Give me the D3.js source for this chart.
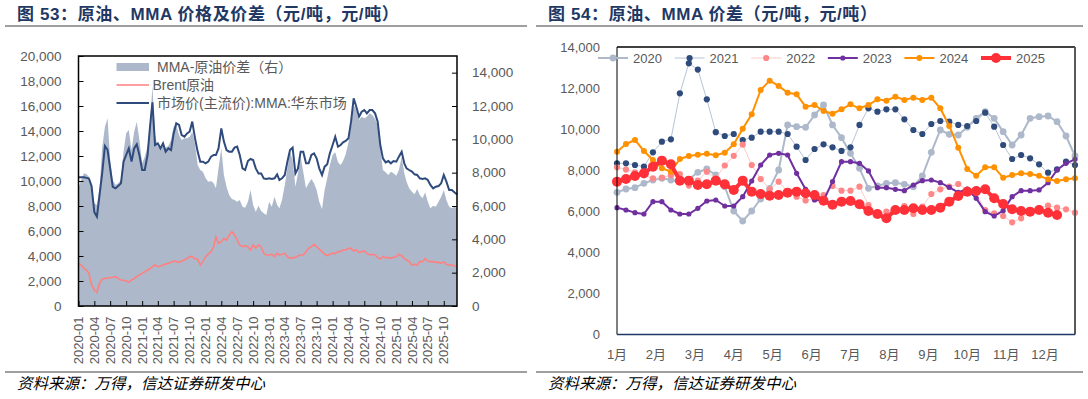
<!DOCTYPE html>
<html>
<head>
<meta charset="utf-8">
<script src="https://cdn.jsdelivr.net/npm/d3@7"></script>
<style>
  body { margin: 0; background: #fff; }
</style>
</head>
<body>
<svg id="svg"></svg>
<script>
// ---------- left chart data: semi-monthly samples, 2020-01 .. 2025-12 ----------
var mmaPrice = [
  10300, 10300, 10300, 10250, 10200, 9600, 7500, 7150, 8880, 10600,
  12800, 12500, 11000, 9530, 9410, 9600, 9810, 11550, 12080, 12600,
  11550, 12600, 12930, 12080, 10880, 10880, 12080, 14480, 16300, 12880,
  13010, 12610, 13010, 12350, 12610, 12480, 13810, 14610, 14480, 13680,
  13550, 13810, 13950, 14750, 13410, 12350, 11550, 11550, 11410, 11550,
  11950, 12080, 12080, 12610, 14210, 13150, 12480, 12350, 12350, 12670,
  12750, 12080, 11010, 10880, 11600, 11760, 11680, 11010, 10610, 10610,
  10210, 10160, 10210, 10160, 10213, 10533, 10080, 10213, 10480, 11547,
  12480, 12667, 10613, 11013, 12347, 12347, 11413, 11413, 12080, 12213,
  11813, 11013, 10480, 11147, 11333, 12213, 12880, 13547, 12747, 12880,
  13093, 13200, 13413, 14747, 16613, 15947, 15147, 15547, 15680, 15413,
  15680, 15680, 15413, 14747, 12880, 11813, 11493, 11600, 11413, 11600,
  11547, 11947, 12347, 11413, 11013, 10880, 10747, 10533, 10480, 10213,
  10160, 10213, 10080, 9680, 9413, 9547, 9600, 9813, 10480, 9947,
  9280, 9280, 9093, 8933
];
var brentPrice = [
  3413, 3280, 3013, 2880, 2613, 1680, 1280, 1100, 1813, 2160,
  2213, 2240, 2267, 2300, 2347, 2213, 2080, 2050, 2027, 1893,
  2080, 2200, 2347, 2480, 2613, 2750, 2880, 3000, 3147, 3280,
  3147, 3200, 3280, 3350, 3413, 3500, 3600, 3550, 3493, 3600,
  3680, 3800, 3947, 3947, 3760, 3760, 3280, 3547, 3947, 4150,
  4347, 4747, 5547, 5013, 5147, 5413, 5280, 5680, 5947, 5680,
  5280, 4880, 4747, 4827, 4747, 4480, 4880, 4613, 4880, 4747,
  4213, 4080, 4080, 4133, 3947, 4213, 4080, 4133, 4213, 3947,
  3813, 3867, 3867, 4027, 4080, 4080, 4347, 4613, 4747, 4933,
  4747, 4560, 4347, 4133, 4027, 4133, 4213, 4213, 4347, 4347,
  4480, 4480, 4613, 4613, 4400, 4480, 4293, 4347, 4400, 4213,
  4080, 4133, 4080, 3867, 3760, 3947, 3867, 3867, 3813, 3893,
  3947, 4133, 4000, 3813, 3680, 3547, 3280, 3333, 3280, 3547,
  3547, 3813, 3600, 3547, 3547, 3493, 3493, 3413, 3547, 3333,
  3280, 3280, 3227, 3147
];
var mmaSpread = [
  7060, 7560, 7960, 7900, 7760, 7160, 6160, 6060, 7060, 9460,
  10760, 11260, 8760, 7560, 7260, 7360, 7560, 9260, 10360, 10560,
  9360, 10460, 11060, 9960, 8560, 8960, 9560, 11060, 13200, 10260,
  9560, 9560, 9660, 9500, 9620, 9960, 10760, 10860, 10260, 9960,
  10060, 10060, 10160, 10460, 9700, 8460, 8160, 8060, 7660, 7460,
  7500, 7360, 7060, 8260, 9460, 7860, 7160, 6660, 6420, 6360,
  6260, 6360, 5960, 5900, 6260, 6960, 6060, 5660, 6020, 5700,
  5560, 5460, 6260, 5960, 6560, 6060, 5860, 6360, 7260, 8260,
  9260, 8760, 7160, 7960, 8960, 8060, 7060, 7360, 7620, 7360,
  6960, 6260, 5820, 6960, 7660, 8460, 9060, 9220, 8620, 8460,
  8700, 9100, 9820, 10760, 12060, 11760, 11160, 11360, 11260, 11360,
  11560, 11460, 11220, 10860, 9460, 8160, 8020, 7860, 8060, 7960,
  7820, 8160, 8960, 7960, 7460, 7060, 6860, 6700, 7020, 6660,
  6460, 6820, 6260, 5860, 6020, 5960, 6260, 6560, 6960, 6360,
  5960, 5860, 5960, 5860
];
var quarterLabels = [
  "2020-01","2020-04","2020-07","2020-10","2021-01","2021-04","2021-07","2021-10",
  "2022-01","2022-04","2022-07","2022-10","2023-01","2023-04","2023-07","2023-10",
  "2024-01","2024-04","2024-07","2024-10","2025-01","2025-04","2025-07","2025-10"
];
var leftSeriesNames = ["MMA-原油价差（右）", "Brent原油", "市场价(主流价):MMA:华东市场"];

// ---------- right chart data: weekly spread by year ----------
var monthLabels = ["1月","2月","3月","4月","5月","6月","7月","8月","9月","10月","11月","12月"];
var yearNames = ["2020","2021","2022","2023","2024","2025"];
var spread2020 = [6923,7086,7151,7362,7524,7606,7524,7443,7557,7899,8060,7768,7200,6014,5527,6014,6599,7118,8011,10203,
  10121,10089,10690,11177,10203,9585,8824,8093,7118,7232,7362,7394,7313,7200,7719,8873,9959,9748,9715,10089,
  10527,10852,10527,9877,9229,9715,10527,10608,10641,10365,9667,8693];
var spread2021 = [8335,8335,8255,8173,8873,9391,9504,11745,13206,12900,11450,9850,9667,9764,9472,9585,9877,9877,9877,9764,
  9147,8498,9034,9261,9115,8937,9115,10203,11015,10852,10966,10966,10479,9959,9764,10251,10397,10365,10203,10154,
  10397,10803,10121,9229,8547,8742,8580,8288,7880,8045,8417,8255];
var spread2022 = [8141,8030,7900,7750,7600,7640,7750,7816,7250,7500,7930,7600,8230,8700,9250,8250,7570,7070,7440,6960,
  6710,6530,6600,6790,7230,7005,7005,7200,6306,5900,5980,6100,6250,5870,6226,6842,7070,7200,7329,7050,
  6880,6063,5900,5771,5462,5657,5982,6150,6273,6177,6095,5933];
var spread2023 = [6177,6063,5933,5869,6469,6469,6063,5869,5869,6144,6501,6550,6258,6258,6713,7475,8255,8742,8824,8742,
  7850,7070,6550,6520,7450,8417,8417,8336,7963,7151,7151,7070,7005,7281,7492,7524,7394,7167,6923,7086,
  6631,5982,5771,6030,6713,7005,7005,7038,7394,8011,8336,8531];
var spread2024 = [8903,9277,9472,8936,8498,8093,7930,8547,8693,8758,8807,8726,8855,9261,10022,10722,11906,12362,12102,11777,
  11696,11095,11177,10884,10750,10966,11210,11015,11177,11453,11388,11583,11420,11534,11420,11534,11015,10154,9099,8060,
  7734,8142,8142,7636,7767,7848,7815,7734,7555,7475,7555,7604];
var spread2025 = [7443,7573,7719,7851,8173,8466,8288,7492,7492,7281,7313,7492,7313,7037,7492,6956,6842,6761,6793,6907,
  6956,6875,6793,6510,6320,6469,6501,6339,6014,5869,5657,6063,6063,6144,6063,6063,6177,6469,6745,6956,
  6988,7070,6631,6355,6095,6014,5982,6063,5933,5820];
var yearSeries = [spread2020, spread2021, spread2022, spread2023, spread2024, spread2025];

// ---------- styles ----------
var font = '"Liberation Sans","Noto Sans CJK SC",sans-serif';
var grey = "#595959";
var yearStyle = [
  {line: "#adb9ca", lw: 2,   dot: "#adb9ca", r: 3.4},
  {line: "#b7c4d8", lw: 1,   dot: "#2f4b7c", r: 3.1},
  {line: "#ffcaca", lw: 1,   dot: "#ff8787", r: 3.1},
  {line: "#7030a0", lw: 2,   dot: "#7030a0", r: 2.6},
  {line: "#ff9100", lw: 2,   dot: "#ff9100", r: 3},
  {line: "#ff3038", lw: 4,   dot: "#ff3038", r: 5}
];

var svg = d3.select("#svg").attr("width", 1088).attr("height", 399)
    .style("font-family", font);

// ---------- titles and footers ----------
function frame(x0, x1, title) {
  svg.append("text").attr("x", x0 + 12).attr("y", 20)
    .attr("font-size", 17).attr("font-weight", "bold").attr("fill", "#1f3864")
    .attr("letter-spacing", 0.6)
    .text(title);
  svg.append("line").attr("x1", x0).attr("x2", x1).attr("y1", 26).attr("y2", 26)
    .attr("stroke", "#7f7f7f").attr("stroke-width", 1.5);
  svg.append("line").attr("x1", x0).attr("x2", x1).attr("y1", 372).attr("y2", 372)
    .attr("stroke", "#7f7f7f").attr("stroke-width", 1.5);
  svg.append("text").attr("x", x0 + 12).attr("y", 389)
    .attr("font-size", 15.5).attr("font-style", "italic").attr("fill", "#000")
    .style("font-family", '"Noto Sans CJK SC",sans-serif')
    .text("资料来源：万得，信达证券研发中心");
}
frame(5, 527, "图 53：原油、MMA 价格及价差（元/吨，元/吨）");
frame(536, 1083, "图 54：原油、MMA 价差（元/吨，元/吨）");

// ---------- left chart ----------
var sampleDates = d3.range(mmaPrice.length).map(function(i) {
  return new Date(2020 + Math.floor(i / 24), Math.floor(i / 2) % 12, i % 2 ? 16 : 1);
});
var parseMonth = d3.timeParse("%Y-%m");
var xL = d3.scaleTime().domain([sampleDates[0], sampleDates[sampleDates.length - 1]]).range([78.5, 457]);
var yL = d3.scaleLinear().domain([0, 20000]).range([306, 56]);
var yR = d3.scaleLinear().domain([0, 15000]).range([306, 56]);

var left = svg.append("g");

left.append("path").datum(mmaSpread)
  .attr("d", d3.area().x(function(d, i) { return xL(sampleDates[i]); })
    .y0(yR(0)).y1(function(d) { return yR(d); }))
  .attr("fill", "#adb9ca");

var lineL = d3.line().x(function(d, i) { return xL(sampleDates[i]); }).y(function(d) { return yL(d); });
left.append("path").datum(brentPrice).attr("d", lineL)
  .attr("fill", "none").attr("stroke", "#ff8080").attr("stroke-width", 1.6);
left.append("path").datum(mmaPrice).attr("d", lineL)
  .attr("fill", "none").attr("stroke", "#2f4a7c").attr("stroke-width", 2);

function styleAxis(g, size) {
  g.select(".domain").remove();
  g.attr("font-family", font).attr("font-size", size);
  g.selectAll(".tick line").attr("stroke", "#000");
  g.selectAll(".tick text").attr("fill", grey);
}

left.append("g").attr("transform", "translate(78.5,0)")
  .call(d3.axisLeft(yL).tickValues(d3.range(0, 20001, 2000)).tickSize(-5).tickPadding(17)
    .tickFormat(d3.format(",")))
  .call(styleAxis, 13.5);
left.append("g").attr("transform", "translate(457,0)")
  .call(d3.axisRight(yR).tickValues(d3.range(0, 14001, 2000)).tickSize(-5).tickPadding(15)
    .tickFormat(d3.format(",")))
  .call(styleAxis, 13.5);
left.append("g").attr("transform", "translate(0,306)")
  .call(d3.axisBottom(xL).tickValues(quarterLabels.map(parseMonth)).tickSize(-5).tickFormat(""))
  .call(styleAxis, 13);

left.selectAll("text.xq").data(quarterLabels).join("text")
  .attr("class", "xq")
  .attr("transform", function(d) { return "translate(" + xL(parseMonth(d)) + ",316.5) rotate(-90)"; })
  .attr("text-anchor", "end").attr("dy", "0.35em")
  .attr("font-size", 13).attr("fill", grey)
  .text(function(d) { return d; });

left.append("rect").attr("x", 78.5).attr("y", 56).attr("width", 457 - 78.5).attr("height", 250)
  .attr("fill", "none").attr("stroke", "#000").attr("stroke-width", 1.5);

// legend
var legL = left.append("g").attr("font-size", 14).attr("fill", grey);
legL.append("rect").attr("x", 116.5).attr("y", 63).attr("width", 32.5).attr("height", 8).attr("fill", "#adb9ca");
legL.append("text").attr("x", 157).attr("y", 67).attr("dy", "0.35em").text(leftSeriesNames[0]);
legL.append("line").attr("x1", 116.5).attr("x2", 149).attr("y1", 85).attr("y2", 85)
  .attr("stroke", "#ff8080").attr("stroke-width", 1.6);
legL.append("text").attr("x", 152.5).attr("y", 85).attr("dy", "0.35em").text(leftSeriesNames[1]);
legL.append("line").attr("x1", 116.5).attr("x2", 149).attr("y1", 103).attr("y2", 103)
  .attr("stroke", "#2f4a7c").attr("stroke-width", 2);
legL.append("text").attr("x", 157).attr("y", 103).attr("dy", "0.35em").text(leftSeriesNames[2]);

// ---------- right chart ----------
var right = svg.append("g");
var xW = d3.scaleLinear().domain([0, 51]).range([617, 1075]);
var yW = d3.scaleLinear().domain([0, 14000]).range([334.5, 47]);

right.append("g").attr("transform", "translate(617,0)")
  .call(d3.axisLeft(yW).tickValues(d3.range(0, 14001, 2000)).tickSize(0).tickPadding(17)
    .tickFormat(d3.format(",")))
  .call(styleAxis, 13);

right.selectAll("text.mon").data(monthLabels).join("text")
  .attr("class", "mon")
  .attr("x", function(d, i) { return xW(i * 52 / 12); })
  .attr("y", 354).attr("dy", "0.35em").attr("text-anchor", "middle")
  .attr("font-size", 13).attr("fill", grey)
  .text(function(d) { return d; });

var lineW = d3.line().x(function(d, i) { return xW(i); }).y(function(d) { return yW(d); });
yearSeries.forEach(function(vals, k) {
  var st = yearStyle[k];
  var g = right.append("g");
  g.append("path").datum(vals).attr("d", lineW)
    .attr("fill", "none").attr("stroke", st.line).attr("stroke-width", st.lw)
    .attr("stroke-linejoin", "round");
  g.selectAll("circle").data(vals).join("circle")
    .attr("cx", function(d, i) { return xW(i); })
    .attr("cy", function(d) { return yW(d); })
    .attr("r", st.r).attr("fill", st.dot);
});

// box
right.append("line").attr("x1", 617).attr("x2", 617).attr("y1", 47).attr("y2", 334.5).attr("stroke", "#000").attr("stroke-width", 1);
right.append("line").attr("x1", 617).attr("x2", 1075).attr("y1", 47).attr("y2", 47).attr("stroke", "#000").attr("stroke-width", 1.3);
right.append("line").attr("x1", 1075).attr("x2", 1075).attr("y1", 47).attr("y2", 334.5).attr("stroke", "#595959").attr("stroke-width", 2);
right.append("line").attr("x1", 617).attr("x2", 1075).attr("y1", 334.5).attr("y2", 334.5).attr("stroke", "#1f3864").attr("stroke-width", 1.5);

// legend
var legW = right.selectAll("g.leg").data(yearNames).join("g")
  .attr("class", "leg")
  .attr("transform", function(d, i) { return "translate(" + (598 + i * 76.6) + ",58)"; });
legW.append("line").attr("x1", 0).attr("x2", 30).attr("y1", 0).attr("y2", 0)
  .attr("stroke", function(d, i) { return yearStyle[i].line; })
  .attr("stroke-width", function(d, i) { return yearStyle[i].lw; });
legW.append("circle").attr("cx", 15).attr("cy", 0)
  .attr("r", function(d, i) { return yearStyle[i].r; })
  .attr("fill", function(d, i) { return yearStyle[i].dot; });
legW.append("text").attr("x", 35).attr("y", 0).attr("dy", "0.35em")
  .attr("font-size", 13).attr("fill", grey)
  .text(function(d) { return d; });
</script>
</body>
</html>
